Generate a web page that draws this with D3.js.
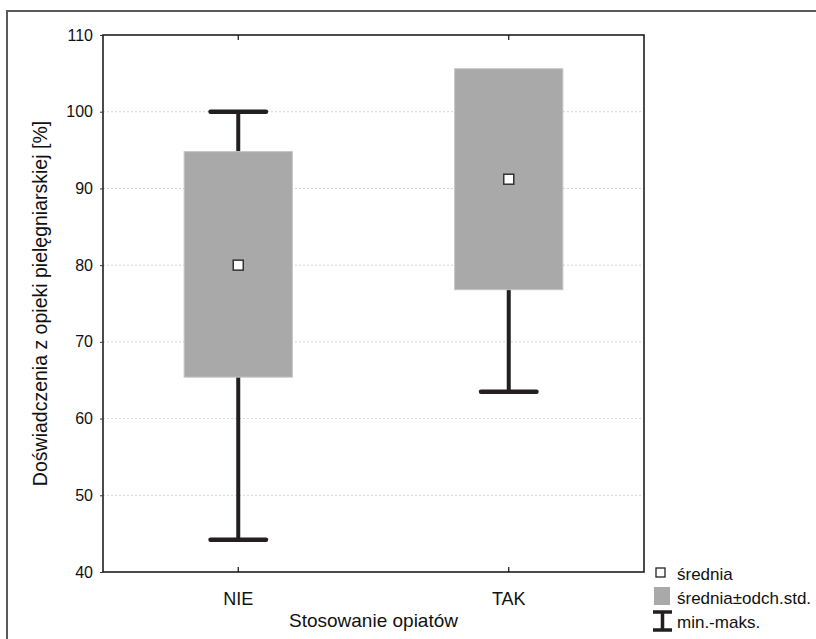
<!DOCTYPE html>
<html>
<head>
<meta charset="utf-8">
<script src="https://cdn.jsdelivr.net/npm/d3@7"></script>
<style>
  html, body { margin: 0; padding: 0; background: #fff; }
  svg { display: block; font-family: "Liberation Sans", Arial, sans-serif; }
</style>
</head>
<body>
<svg id="chart" width="816" height="639"></svg>
<script>
// Groups and summary statistics
const categories = ["NIE", "TAK"];
const means      = [80.0, 91.2];
const sdLow      = [65.4, 76.8];   // mean - SD
const sdHigh     = [94.8, 105.6];  // mean + SD
const mins       = [44.2, 63.5];
const maxs       = [100.0, 100.0];
const yTicks     = [40, 50, 60, 70, 80, 90, 100, 110];

const legendLabels = ["średnia", "średnia±odch.std.", "min.-maks."];
const xTitle = "Stosowanie opiatów";
const yTitle = "Doświadczenia z opieki pielęgniarskiej [%]";

const svg = d3.select("#chart");
const plot = { left: 103, right: 644, top: 35, bottom: 572 };

// Outer frame
svg.append("path")
  .attr("d", "M7,640 L7,11 L817,11")
  .attr("fill", "none").attr("stroke", "#5a5a5a").attr("stroke-width", 2);

const x = d3.scaleBand().domain(categories).range([plot.left, plot.right]).padding(0);
const y = d3.scaleLinear().domain([40, 110]).range([plot.bottom, plot.top]);
const cx = c => x(c) + x.bandwidth() / 2;

// Horizontal grid lines
svg.append("g").selectAll("line")
  .data(yTicks.filter(t => t > 40 && t < 110))
  .join("line")
  .attr("x1", plot.left).attr("x2", plot.right)
  .attr("y1", d => y(d)).attr("y2", d => y(d))
  .attr("stroke", "#d4d4d4").attr("stroke-width", 1)
  .attr("stroke-dasharray", "2,2");

const boxW = x.bandwidth() * 0.4;
const capW = x.bandwidth() * 0.205;
const ink = "#231f20";

const groups = svg.append("g").selectAll("g")
  .data(categories.map((c, i) => ({ c, mean: means[i], lo: sdLow[i], hi: sdHigh[i], min: mins[i], max: maxs[i] })))
  .join("g");

// Whiskers (min-max)
groups.append("line")
  .attr("x1", d => cx(d.c)).attr("x2", d => cx(d.c))
  .attr("y1", d => y(d.min)).attr("y2", d => y(d.max))
  .attr("stroke", ink).attr("stroke-width", 4);
groups.selectAll("line.cap")
  .data(d => [{ c: d.c, v: d.min }, { c: d.c, v: d.max }])
  .join("line").attr("class", "cap")
  .attr("x1", d => cx(d.c) - capW / 2).attr("x2", d => cx(d.c) + capW / 2)
  .attr("y1", d => y(d.v)).attr("y2", d => y(d.v))
  .attr("stroke", ink).attr("stroke-width", 4.5).attr("stroke-linecap", "round");

// Mean ± SD boxes
groups.append("rect")
  .attr("x", d => cx(d.c) - boxW / 2)
  .attr("width", boxW)
  .attr("y", d => y(d.hi))
  .attr("height", d => y(d.lo) - y(d.hi))
  .attr("fill", "#a9a9a9").attr("stroke", "#c4c4c4").attr("stroke-width", 1);

// Mean markers
groups.append("rect")
  .attr("x", d => cx(d.c) - 5).attr("y", d => y(d.mean) - 5)
  .attr("width", 10).attr("height", 10)
  .attr("fill", "#fff").attr("stroke", "#333").attr("stroke-width", 1.5);

// Plot frame
svg.append("rect")
  .attr("x", plot.left).attr("y", plot.top)
  .attr("width", plot.right - plot.left).attr("height", plot.bottom - plot.top)
  .attr("fill", "none").attr("stroke", "#111").attr("stroke-width", 1.5);

// Y axis
const yAxis = svg.append("g")
  .attr("transform", `translate(${plot.left},0)`)
  .call(d3.axisLeft(y).tickValues(yTicks).tickSize(3).tickPadding(7));
yAxis.select(".domain").remove();
yAxis.selectAll(".tick line").attr("stroke", "#333");
yAxis.selectAll("text").attr("font-size", 16).attr("fill", "#111")
  .attr("font-family", "Liberation Sans, Arial, sans-serif");

// X axis (ticks pointing inward)
const xAxis = svg.append("g")
  .attr("transform", `translate(0,${plot.bottom})`)
  .call(d3.axisBottom(x).tickSize(-5).tickPadding(20));
xAxis.select(".domain").remove();
xAxis.selectAll(".tick line").attr("stroke", "#111").attr("stroke-width", 1.2);
xAxis.selectAll("text").attr("font-size", 18).attr("fill", "#111")
  .attr("font-family", "Liberation Sans, Arial, sans-serif");

// Top ticks
svg.append("g").selectAll("line")
  .data(categories).join("line")
  .attr("x1", d => cx(d)).attr("x2", d => cx(d))
  .attr("y1", plot.top).attr("y2", plot.top + 5)
  .attr("stroke", "#111").attr("stroke-width", 1.2);

// Axis titles
svg.append("text")
  .attr("x", (plot.left + plot.right) / 2).attr("y", 627)
  .attr("text-anchor", "middle").attr("font-size", 19).attr("fill", "#111")
  .text(xTitle);
svg.append("text")
  .attr("transform", `translate(47,${(plot.top + plot.bottom) / 2}) rotate(-90)`)
  .attr("text-anchor", "middle").attr("font-size", 19.5).attr("fill", "#111")
  .text(yTitle);

// Legend
const lg = svg.append("g");
lg.append("rect").attr("x", 656).attr("y", 568).attr("width", 9).attr("height", 9)
  .attr("fill", "#fff").attr("stroke", "#222").attr("stroke-width", 1.3);
lg.append("rect").attr("x", 654).attr("y", 587).attr("width", 16).attr("height", 18)
  .attr("fill", "#a9a9a9");
lg.append("path").attr("d", "M653,612 L672,612 M662.5,612 L662.5,630 M653,630 L672,630")
  .attr("stroke", ink).attr("stroke-width", 3.5).attr("fill", "none");
lg.selectAll("text").data(legendLabels).join("text")
  .attr("x", 677).attr("y", (d, i) => 580 + i * 24)
  .attr("font-size", 17).attr("fill", "#111")
  .text(d => d);
</script>
</body>
</html>
